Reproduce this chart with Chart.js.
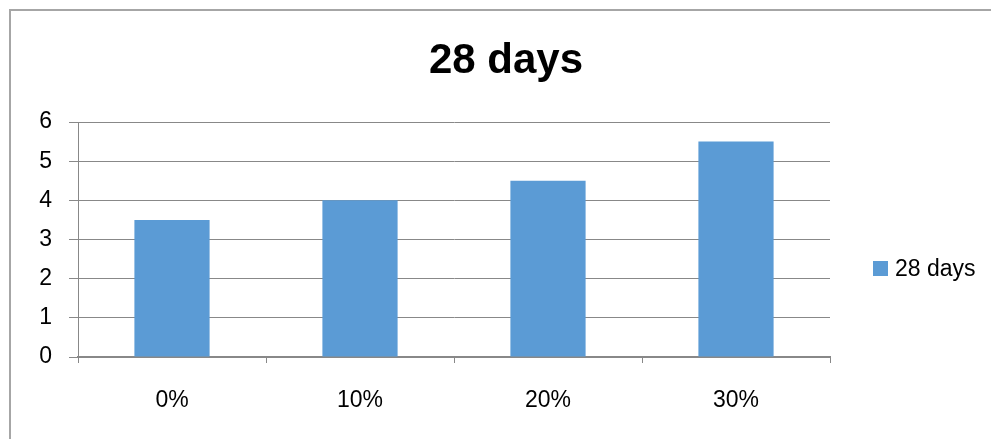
<!DOCTYPE html>
<html>
<head>
<meta charset="utf-8">
<script src="https://cdn.jsdelivr.net/npm/chart.js@4.4.1/dist/chart.umd.min.js"></script>
<style>
  html, body { margin: 0; padding: 0; background: #fff; overflow: hidden; }
  #wrap { position: relative; width: 991px; height: 439px; }
  #frame { position: absolute; left: 9px; top: 9px; width: 1200px; height: 800px; border: 2px solid #a6a6a6; box-sizing: border-box; }
  canvas { position: absolute; left: 0; top: 0; }
  #legend { position: absolute; left: 873px; top: 254px; height: 28px; display: flex; align-items: center;
            font-family: "Liberation Sans", Arial, sans-serif; font-size: 23px; color: #000; }
  #legend .box { width: 15px; height: 15px; background: #5b9bd5; margin-right: 7px; }
</style>
</head>
<body>
<div id="wrap">
  <div id="frame"></div>
  <canvas id="grafico" width="991" height="439"></canvas>
  <div id="legend"><span class="box"></span><span id="legendText"></span></div>
</div>
<script>
const categorias = ["0%", "10%", "20%", "30%"];
const valores28 = [3.5, 4, 4.5, 5.5];
const ticksY = [0, 1, 2, 3, 4, 5, 6];
const serieNombre = "28 days";

document.getElementById("legendText").innerText = serieNombre;

const gris = "#888888";
const fuente = "'Liberation Sans', Arial, sans-serif";

const ctx = document.getElementById("grafico").getContext("2d");
new Chart(ctx, {
  type: "bar",
  data: {
    labels: categorias,
    datasets: [{
      label: serieNombre,
      data: valores28,
      backgroundColor: "#5b9bd5",
      categoryPercentage: 1,
      barPercentage: 0.4
    }]
  },
  options: {
    responsive: false,
    animation: false,
    layout: { padding: { left: 21, right: 0, top: 10, bottom: 0 } },
    plugins: {
      legend: { display: false },
      tooltip: { enabled: false },
      title: {
        display: true,
        text: serieNombre,
        color: "#000",
        font: { family: fuente, size: 42, weight: "bold", lineHeight: 1.2 },
        padding: { top: 26, bottom: 35.6 }
      }
    },
    scales: {
      x: {
        grid: { display: true, drawOnChartArea: false, drawTicks: true, tickLength: 6, color: gris, offset: true },
        border: { display: true, color: gris, width: 2 },
        ticks: { color: "#000", padding: 24, font: { family: fuente, size: 23 } },
        afterFit: s => { s.height = 82; }
      },
      y: {
        min: ticksY[0],
        max: ticksY[ticksY.length - 1],
        afterBuildTicks: s => { s.ticks = ticksY.map(v => ({ value: v })); },
        grid: { color: gris, lineWidth: 1, tickLength: 9 },
        border: { display: true, color: gris, width: 1 },
        ticks: { color: "#000", padding: 17, font: { family: fuente, size: 23 } },
        afterFit: s => { s.width = 57; }
      },
      // espacio vacio a la derecha para la leyenda
      espacio: {
        type: "linear",
        position: "right",
        display: true,
        grid: { display: false },
        border: { display: false },
        ticks: { display: false },
        afterFit: s => { s.width = 161; }
      }
    }
  }
});
</script>
</body>
</html>
